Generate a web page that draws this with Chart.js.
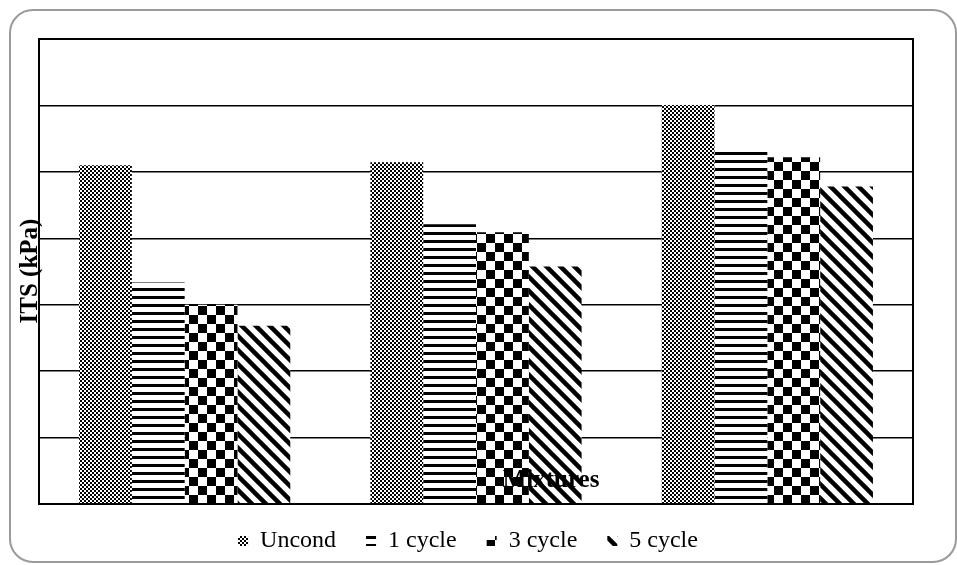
<!DOCTYPE html>
<html>
<head>
<meta charset="utf-8">
<script src="https://cdn.jsdelivr.net/npm/chart.js@4.4.0/dist/chart.umd.min.js"></script>
<style>
  html, body { margin: 0; padding: 0; background: #fff; }
  #wrap { position: relative; width: 957px; height: 565px; }
  #frame { position: absolute; left: 9px; top: 9px; width: 944px; height: 550px;
           border: 2px solid #9a9a9a; border-radius: 24px; pointer-events: none; }
</style>
</head>
<body>
<div id="wrap">
  <canvas id="itsChart" width="957" height="565"></canvas>
  <div id="frame"></div>
</div>
<script>
// categories are not printed on the reference, only the axis title
const mixtures = ['Mix 1', 'Mix 2', 'Mix 3'];
const seriesNames = ['Uncond', '1 cycle', '3 cycle', '5 cycle'];
const uncond = [1020, 1029, 1201];
const cycle1 = [667, 842, 1071];
const cycle3 = [600, 818, 1044];
const cycle5 = [537, 715, 956];
const yTicks = [0, 200, 400, 600, 800, 1000, 1200, 1400];

// fill patterns, like the old Excel hatch fills
function makePattern(kind) {
  const c = document.createElement('canvas');
  const g = c.getContext('2d');
  if (kind === 'smallcheck') {
    c.width = 4; c.height = 4;
    g.fillStyle = '#fff'; g.fillRect(0, 0, 4, 4);
    g.fillStyle = '#000'; g.fillRect(0, 0, 2, 2); g.fillRect(2, 2, 2, 2);
  } else if (kind === 'hlines') {
    c.width = 8; c.height = 8;
    g.fillStyle = '#fff'; g.fillRect(0, 0, 8, 8);
    g.fillStyle = '#000'; g.fillRect(0, 0, 8, 3);
  } else if (kind === 'bigcheck') {
    c.width = 18; c.height = 18;
    g.fillStyle = '#fff'; g.fillRect(0, 0, 18, 18);
    g.fillStyle = '#000'; g.fillRect(0, 0, 9, 9); g.fillRect(9, 9, 9, 9);
  } else if (kind === 'diag') {
    c.width = 14; c.height = 14;
    g.fillStyle = '#fff'; g.fillRect(0, 0, 14, 14);
    g.strokeStyle = '#000'; g.lineWidth = 4.5;
    [-14, 0, 14].forEach(o => {
      g.beginPath(); g.moveTo(o - 2, -2); g.lineTo(o + 16, 16); g.stroke();
    });
  }
  return g.createPattern(c, 'repeat');
}

const fills = [makePattern('smallcheck'), makePattern('hlines'), makePattern('bigcheck'), makePattern('diag')];
const values = [uncond, cycle1, cycle3, cycle5];

const serif = "'Liberation Serif', 'Times New Roman', serif";

// plot frame plus the two axis titles, placed where the reference has them
const framePlugin = {
  id: 'framePlugin',
  afterLayout(chart) {
    // legend sits a little higher and further left than chart.js would put it
    if (chart.legend) {
      chart.legend.top -= 5; chart.legend.bottom -= 5;
      chart.legend.left -= 8; chart.legend.right -= 8;
    }
  },
  afterDatasetsDraw(chart) {
    const { ctx, chartArea: a } = chart;
    ctx.save();
    ctx.strokeStyle = '#000';
    ctx.lineWidth = 2;
    ctx.strokeRect(a.left, a.top, a.right - a.left, a.bottom - a.top);
    ctx.fillStyle = '#000';
    ctx.font = 'bold 25px ' + serif;
    ctx.textAlign = 'center';
    ctx.textBaseline = 'middle';
    ctx.fillText('Mixtures', 551, 481);
    ctx.translate(31, 271);
    ctx.rotate(-Math.PI / 2);
    ctx.fillText('ITS (kPa)', 0, 0);
    ctx.restore();
  }
};

new Chart(document.getElementById('itsChart'), {
  type: 'bar',
  data: {
    labels: mixtures,
    datasets: seriesNames.map((name, i) => ({
      label: name,
      data: values[i],
      backgroundColor: fills[i],
      borderWidth: 0,
      categoryPercentage: 0.725,
      barPercentage: 1
    }))
  },
  options: {
    responsive: false,
    animation: false,
    layout: { padding: { left: 39, top: 39, right: 44, bottom: -3 } },
    plugins: {
      tooltip: { enabled: false },
      legend: {
        position: 'bottom',
        labels: {
          color: '#000',
          font: { family: serif, size: 24 },
          boxWidth: 10,
          boxHeight: 10,
          padding: 30
        }
      }
    },
    scales: {
      x: {
        ticks: { display: false },
        grid: { display: false, drawTicks: false },
        border: { display: false }
      },
      y: {
        min: 0,
        max: yTicks[yTicks.length - 1],
        afterBuildTicks: axis => { axis.ticks = yTicks.map(v => ({ value: v })); },
        ticks: { display: false },
        grid: { color: '#000', lineWidth: 1.5, drawTicks: false },
        border: { display: false }
      }
    }
  },
  plugins: [framePlugin]
});
</script>
</body>
</html>
